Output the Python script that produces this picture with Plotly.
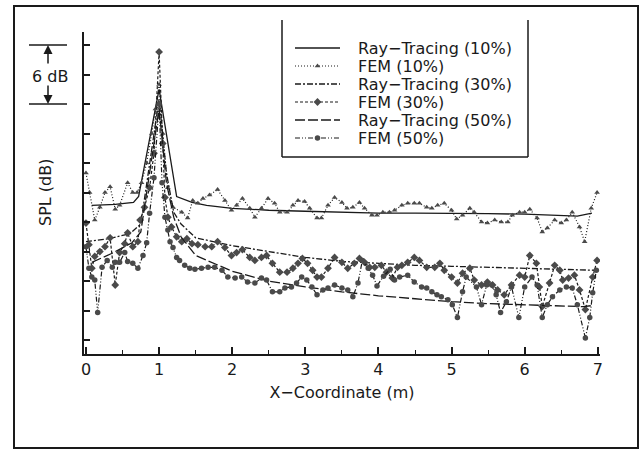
import plotly.graph_objects as go

# ---------------- data ----------------
rt10_x = [0.08, 0.40, 0.65, 0.72, 1.00, 1.24, 1.45, 1.65, 2.0, 2.5, 3.0, 3.5, 4.0, 4.5, 5.0, 5.5, 6.0, 6.5, 6.72, 6.92]
rt10_y = [13.7, 13.8, 14.0, 14.6, 25.5, 14.6, 14.0, 13.7, 13.4, 13.2, 13.1, 13.0, 12.9, 12.9, 12.9, 12.85, 12.8, 12.7, 12.6, 12.9]

fem10_x = [0.0, 0.05, 0.12, 0.19, 0.26, 0.33, 0.40, 0.46, 0.57, 0.64, 0.70, 0.76, 0.83, 0.90, 0.95, 1.00, 1.05, 1.12,
           1.19, 1.31, 1.39, 1.46, 1.53, 1.60, 1.69, 1.80, 1.90, 1.99, 2.06, 2.14, 2.24, 2.31, 2.40, 2.49, 2.58, 2.65,
           2.75, 2.83, 2.90, 2.99, 3.06, 3.16, 3.22, 3.31, 3.40, 3.50, 3.57, 3.65, 3.74, 3.81, 3.91, 3.98, 4.06, 4.15,
           4.22, 4.32, 4.40, 4.49, 4.56, 4.66, 4.73, 4.81, 4.90, 5.00, 5.07, 5.15, 5.25, 5.31, 5.41, 5.49, 5.59, 5.68,
           5.77, 5.83, 5.93, 6.00, 6.07, 6.17, 6.24, 6.31, 6.41, 6.50, 6.57, 6.65, 6.75, 6.82, 6.91, 6.99]
fem10_y = [17.0, 15.0, 12.2, 13.5, 15.0, 15.6, 13.3, 13.7, 16.0, 15.0, 15.0, 16.0, 18.0, 21.0, 23.5, 26.0, 21.0, 15.5,
           13.5, 13.0, 12.4, 14.2, 13.9, 14.4, 14.75, 15.3, 14.2, 13.2, 13.7, 14.4, 13.4, 12.5, 13.4, 14.4, 13.9, 13.0,
           13.0, 13.7, 14.2, 14.1, 13.4, 12.4, 12.4, 13.7, 14.5, 14.0, 13.4, 13.5, 14.0, 13.4, 12.7, 12.7, 13.0, 13.0,
           13.2, 13.7, 13.9, 13.9, 13.9, 13.5, 13.4, 13.7, 13.9, 13.2, 12.3, 12.7, 13.4, 13.0, 12.0, 11.9, 12.2, 12.0,
           12.0, 12.7, 13.0, 13.0, 13.3, 12.4, 11.0, 11.4, 12.2, 11.9, 12.2, 13.0, 11.5, 10.0, 13.4, 15.0]

rt30_x = [0.0, 0.3, 0.6, 0.75, 1.0, 1.1, 1.2, 1.3, 1.5, 2.0, 2.5, 3.0, 3.5, 4.0, 4.5, 5.0, 5.5, 6.0, 6.5, 6.95]
rt30_y = [10.0, 10.3, 10.8, 11.8, 24.5, 17.0, 13.0, 11.8, 10.4, 9.6, 9.0, 8.4, 8.0, 7.8, 7.6, 7.5, 7.4, 7.3, 7.2, 7.1]

fem30_x = [0.0, 0.04, 0.08, 0.12, 0.19, 0.26, 0.33, 0.40, 0.46, 0.53, 0.57, 0.64, 0.71, 0.74, 0.80, 0.87, 0.93, 1.00,
           1.05, 1.08, 1.12, 1.17, 1.24, 1.31, 1.38, 1.45, 1.53, 1.63, 1.72, 1.80, 1.90, 1.99, 2.06, 2.14, 2.24, 2.31,
           2.40, 2.47, 2.55, 2.65, 2.75, 2.83, 2.90, 2.96, 3.03, 3.10, 3.16, 3.22, 3.31, 3.40, 3.50, 3.58, 3.67, 3.74,
           3.81, 3.88, 3.95, 4.04, 4.11, 4.19, 4.26, 4.32, 4.40, 4.49, 4.56, 4.66, 4.77, 4.84, 4.90, 5.00, 5.08, 5.15,
           5.25, 5.31, 5.41, 5.49, 5.56, 5.63, 5.72, 5.82, 5.93, 6.00, 6.07, 6.16, 6.20, 6.24, 6.34, 6.41, 6.48, 6.52,
           6.60, 6.68, 6.75, 6.83, 6.93, 6.99]
fem30_y = [11.9, 9.7, 7.3, 8.5, 9.0, 9.5, 10.4, 5.6, 8.9, 9.8, 10.9, 9.5, 10.0, 12.2, 13.5, 15.5, 19.0, 29.3,
           20.0, 14.5, 12.5, 11.5, 10.5, 10.0, 10.3, 9.8, 9.7, 9.5, 9.5, 10.0, 9.4, 8.6, 8.9, 9.2, 8.4, 8.1,
           8.4, 8.6, 7.8, 6.9, 6.9, 7.3, 7.8, 8.3, 7.8, 7.1, 6.4, 6.4, 7.3, 8.4, 7.9, 7.3, 7.8, 8.3,
           7.9, 7.4, 7.4, 7.6, 6.9, 6.3, 7.4, 7.6, 7.9, 8.4, 8.1, 7.4, 7.4, 7.8, 7.1, 6.4, 5.8, 6.8,
           7.3, 6.1, 5.6, 5.9, 5.6, 5.1, 4.6, 5.6, 6.6, 6.4, 8.6, 7.8, 5.4, 3.4, 5.8, 7.6, 7.1, 6.1,
           6.3, 6.6, 5.1, 3.1, 6.4, 8.1]

rt50_x = [0.08, 0.35, 0.63, 0.75, 1.0, 1.1, 1.2, 1.3, 1.5, 2.0, 2.5, 3.0, 3.5, 4.0, 4.5, 5.0, 5.5, 6.0, 6.5, 6.8, 6.92]
rt50_y = [7.9, 8.8, 9.9, 11.0, 23.5, 16.0, 12.5, 10.5, 8.6, 7.0, 6.0, 5.4, 4.9, 4.5, 4.2, 3.9, 3.7, 3.6, 3.5, 3.4, 3.5]

fem50_x = [0.0, 0.04, 0.08, 0.12, 0.16, 0.22, 0.29, 0.36, 0.40, 0.46, 0.53, 0.57, 0.64, 0.71, 0.78, 0.83, 0.87, 0.93,
           1.00, 1.04, 1.08, 1.12, 1.15, 1.19, 1.24, 1.28, 1.35, 1.42, 1.49, 1.58, 1.67, 1.76, 1.86, 1.94, 2.04, 2.13,
           2.21, 2.31, 2.40, 2.47, 2.55, 2.65, 2.72, 2.81, 2.88, 2.95, 3.02, 3.09, 3.16, 3.24, 3.31, 3.40, 3.50, 3.58,
           3.65, 3.72, 3.78, 3.86, 3.92, 3.98, 4.07, 4.16, 4.22, 4.29, 4.40, 4.49, 4.59, 4.66, 4.73, 4.80, 4.86, 4.95,
           5.01, 5.08, 5.15, 5.20, 5.34, 5.41, 5.48, 5.55, 5.61, 5.67, 5.75, 5.82, 5.92, 6.00, 6.10, 6.17, 6.24, 6.31,
           6.38, 6.48, 6.57, 6.65, 6.72, 6.83, 6.89, 6.93, 6.98]
fem50_y = [9.5, 7.3, 6.4, 6.1, 2.8, 7.4, 8.1, 7.4, 7.9, 7.9, 8.9, 8.0, 7.8, 7.3, 8.6, 9.9, 12.9, 16.5,
           24.0, 16.0, 12.5, 11.2, 10.0, 9.4, 8.4, 8.1, 7.6, 7.3, 7.2, 7.3, 7.4, 7.4, 7.1, 6.4, 6.3, 6.4,
           5.9, 5.8, 6.3, 6.1, 4.9, 4.9, 5.3, 5.4, 5.8, 6.4, 6.1, 5.4, 4.6, 5.1, 5.3, 5.6, 5.3, 5.1,
           4.4, 5.8, 8.1, 7.3, 6.6, 5.5, 6.5, 7.2, 6.1, 6.4, 6.6, 5.9, 5.4, 5.3, 4.9, 4.6, 4.4, 4.1,
           3.6, 2.3, 4.9, 6.4, 5.4, 3.6, 5.6, 5.6, 4.6, 2.8, 3.9, 5.4, 2.3, 5.4, 6.4, 5.6, 2.3, 3.6,
           4.4, 5.1, 5.4, 5.3, 3.6, 0.2, 2.3, 4.8, 7.1]

x_ticks = [0, 1, 2, 3, 4, 5, 6, 7]
y_ticks = [0, 3, 6, 9, 12, 15, 18, 21, 24, 27, 30]

series_names = ["Ray−Tracing (10%)", "FEM (10%)", "Ray−Tracing (30%)",
                "FEM (30%)", "Ray−Tracing (50%)", "FEM (50%)"]

# ---------------- styles ----------------
FONT = "DejaVu Sans"
INK = "#1a1a1a"
MK = "#4a4a4a"
styles = [
    dict(dash="solid", width=1.3, symbol=None, size=0),
    dict(dash="1px,2px", width=1.2, symbol="triangle-up", size=5),
    dict(dash="6px,2px,2px,2px", width=1.3, symbol=None, size=0),
    dict(dash="3px,2px", width=1.2, symbol="diamond", size=6),
    dict(dash="10px,3px", width=1.3, symbol=None, size=0),
    dict(dash="5px,2px,1px,2px,1px,2px", width=1.2, symbol="circle", size=5.5),
]
series = [(rt10_x, rt10_y), (fem10_x, fem10_y), (rt30_x, rt30_y),
          (fem30_x, fem30_y), (rt50_x, rt50_y), (fem50_x, fem50_y)]

fig = go.Figure()
for (xs, ys), st, nm in zip(series, styles, series_names):
    if st["symbol"]:
        fig.add_trace(go.Scatter(x=xs, y=ys, mode="lines+markers", name=nm, showlegend=False,
                                 line=dict(color=INK, width=st["width"], dash=st["dash"]),
                                 marker=dict(symbol=st["symbol"], size=st["size"], color=MK)))
    else:
        fig.add_trace(go.Scatter(x=xs, y=ys, mode="lines", name=nm, showlegend=False,
                                 line=dict(color=INK, width=st["width"], dash=st["dash"])))

W, H = 642, 451
L, R, T, B = 84, 42, 32, 97
pw, ph = W - L - R, H - T - B


def px_to_paper_x(px):
    return (px - L) / pw


def py_to_paper_y(py):
    return (H - B - py) / ph


# ---------------- key (drawn on a pixel-scaled overlay axis) ----------------
key_rows = [48, 66, 84, 102, 120, 138]
key_x0, key_x1, key_text = 295, 340, 357
for row, st, nm in zip(key_rows, styles, series_names):
    fig.add_trace(go.Scatter(x=[key_x0, key_x1], y=[row, row], mode="lines", xaxis="x2", yaxis="y2",
                             showlegend=False, hoverinfo="skip",
                             line=dict(color=INK, width=st["width"], dash=st["dash"])))
    if st["symbol"]:
        fig.add_trace(go.Scatter(x=[(key_x0 + key_x1) / 2], y=[row], mode="markers", xaxis="x2", yaxis="y2",
                                 showlegend=False, hoverinfo="skip",
                                 marker=dict(symbol=st["symbol"], size=st["size"], color=MK)))
    fig.add_annotation(text=nm, xref="x2", yref="y2", x=key_text, y=row, xanchor="left", yanchor="middle",
                       showarrow=False, borderpad=0, font=dict(family=FONT, size=16, color=INK))

fig.update_layout(
    width=W, height=H,
    margin=dict(l=L, r=R, t=T, b=B, pad=0),
    paper_bgcolor="white", plot_bgcolor="white",
    font=dict(family=FONT, color=INK, size=16),
    showlegend=False,
    xaxis=dict(range=[-0.027, 7.03], tickvals=x_ticks, ticks="inside", ticklen=7, tickwidth=1.5,
               tickcolor=INK, showline=True, linecolor=INK, linewidth=2, showgrid=False, zeroline=False,
               minor=dict(dtick=0.5, ticks="inside", ticklen=4, tickwidth=1.2, tickcolor=INK),
               tickfont=dict(family=FONT, size=16, color=INK),
               title=dict(text="X−Coordinate (m)", font=dict(family=FONT, size=16, color=INK), standoff=9)),
    yaxis=dict(range=[-1.42, 31.33], tickvals=y_ticks, ticks="inside", ticklen=6, tickwidth=1.5,
               tickcolor=INK, showline=True, linecolor=INK, linewidth=2, showgrid=False, zeroline=False,
               showticklabels=False),
    xaxis2=dict(overlaying="x", range=[L, W - R], visible=False, fixedrange=True),
    yaxis2=dict(overlaying="y", range=[H - B, T], visible=False, fixedrange=True),
)

# y-axis title placed where the reference has it
fig.add_annotation(text="SPL (dB)", xref="paper", yref="paper", x=px_to_paper_x(45), y=0.5,
                   xanchor="center", yanchor="middle",
                   textangle=-90, showarrow=False, font=dict(family=FONT, size=16, color=INK))

# outer frame
fig.add_shape(type="rect", xref="paper", yref="paper",
              x0=px_to_paper_x(14), x1=px_to_paper_x(638), y0=py_to_paper_y(448), y1=py_to_paper_y(6),
              line=dict(color=INK, width=2), layer="below")

# key box (left, right, bottom edges)
lx0, lx1 = px_to_paper_x(282), px_to_paper_x(528)
ly0, ly1 = py_to_paper_y(157), py_to_paper_y(20)
for x0, y0, x1, y1 in [(lx0, ly1, lx0, ly0), (lx1, ly1, lx1, ly0), (lx0, ly0, lx1, ly0)]:
    fig.add_shape(type="line", xref="paper", yref="paper", x0=x0, y0=y0, x1=x1, y1=y1,
                  line=dict(color=INK, width=1.5))

# 6 dB scale marker
ax0, ax1 = px_to_paper_x(29), px_to_paper_x(67)
for yv in (30, 24):
    fig.add_shape(type="line", xref="paper", yref="y", x0=ax0, x1=ax1, y0=yv, y1=yv,
                  line=dict(color=INK, width=1.5))
axm = px_to_paper_x(48)
fig.add_annotation(text="6 dB", xref="paper", yref="y", x=px_to_paper_x(50), y=26.8,
                   xanchor="center", yanchor="middle", showarrow=False,
                   font=dict(family=FONT, size=16, color=INK))
fig.add_annotation(text="", xref="paper", yref="y", x=axm, y=30, ax=0, ay=20, showarrow=True,
                   arrowhead=2, arrowsize=1.2, arrowwidth=1.5, arrowcolor=INK)
fig.add_annotation(text="", xref="paper", yref="y", x=axm, y=24, ax=0, ay=-20, showarrow=True,
                   arrowhead=2, arrowsize=1.2, arrowwidth=1.5, arrowcolor=INK)

fig.write_html("out.html", config={"displayModeBar": False},
               post_script="document.body.style.margin='0';")
